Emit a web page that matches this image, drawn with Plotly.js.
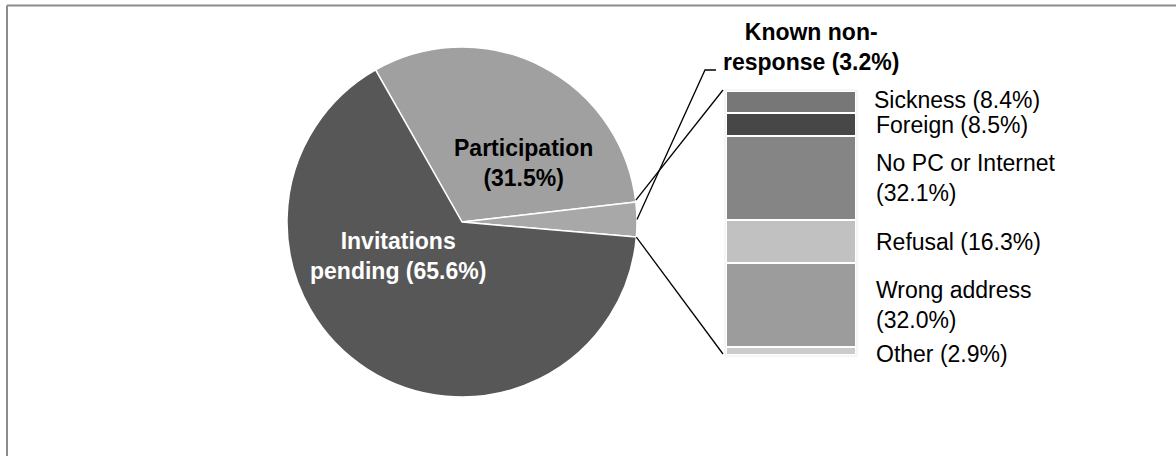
<!DOCTYPE html>
<html>
<head>
<meta charset="utf-8">
<script src="https://cdn.plot.ly/plotly-3.0.1.min.js"></script>
<style>
  html, body { margin: 0; padding: 0; background: #fff; }
  #chart { width: 1176px; height: 456px; }
</style>
</head>
<body>
<div id="chart"></div>
<script>
// ---- data ----
const pieLabels = ["Participation", "Known non-response", "Invitations pending"];
const pieValues = [31.5, 3.2, 65.6];
const pieText = ["Participation<br>(31.5%)", "Known non-<br>response (3.2%)", "Invitations<br>pending (65.6%)"];

const barLabels = ["Sickness", "Foreign", "No PC or Internet", "Refusal", "Wrong address", "Other"];
const barValues = [8.4, 8.5, 32.1, 16.3, 32.0, 2.9];
const barText = ["Sickness (8.4%)", "Foreign (8.5%)", "No PC or Internet<br>(32.1%)", "Refusal (16.3%)", "Wrong address<br>(32.0%)", "Other (2.9%)"];

// ---- styles / layout geometry ----
const W = 1176, H = 456;
const pieColors = ["#a0a0a0", "#a8a8a8", "#575757"];
const barColors = ["#777777", "#474747", "#858585", "#c1c1c1", "#9c9c9c", "#cbcbcb"];
const FONT = "Liberation Sans, Arial, Helvetica, sans-serif";
const FS = 23;
const pieCx = 462, pieCy = 222, pieR = 175, rotation = -29.6;
const barLeft = 726, barRight = 856, barTop = 91, barBottom = 355;
const labelShift = [2, -1, 0, 0, 0, -3];

const px = x => x / W;
const py = y => 1 - y / H;

// pie angles (clockwise from 12 o'clock), derived from the values
const total = pieValues.reduce((a, b) => a + b, 0);
const bounds = [rotation];
pieValues.forEach(v => bounds.push(bounds[bounds.length - 1] + v / total * 360));
function edge(angDeg) {
  const a = angDeg * Math.PI / 180;
  return [pieCx + pieR * Math.sin(a), pieCy - pieR * Math.cos(a)];
}
const pA = edge(bounds[1]);
const pC = edge(bounds[2]);
const pMid = edge((bounds[1] + bounds[2]) / 2);

const barTotal = barValues.reduce((a, b) => a + b, 0);

const traces = [{
  type: "pie",
  labels: pieLabels,
  values: pieValues,
  sort: false,
  direction: "clockwise",
  rotation: rotation,
  marker: { colors: pieColors, line: { color: "#ffffff", width: 1.5 } },
  textinfo: "none",
  hoverinfo: "label+value",
  showlegend: false,
  domain: { x: [px(pieCx - pieR), px(pieCx + pieR)], y: [py(pieCy + pieR), py(pieCy - pieR)] }
}];

barLabels.forEach((lab, i) => {
  traces.push({
    type: "bar",
    name: lab,
    x: ["Known non-response"],
    y: [barValues[i]],
    xaxis: "x",
    yaxis: "y",
    marker: { color: barColors[i], line: { color: "#ffffff", width: 2 } },
    showlegend: false,
    hoverinfo: "name+y"
  });
});

const annotations = [];
// pie labels
annotations.push({ xref: "paper", yref: "paper", x: px(523), y: py(163), text: "<b>" + pieText[0] + "</b>",
  showarrow: false, xanchor: "center", yanchor: "middle", font: { family: FONT, size: FS, color: "#000000" } });
annotations.push({ xref: "paper", yref: "paper", x: px(398), y: py(256), text: "<b>" + pieText[2] + "</b>",
  showarrow: false, xanchor: "center", yanchor: "middle", font: { family: FONT, size: FS, color: "#ffffff" } });
annotations.push({ xref: "paper", yref: "paper", x: px(811), y: py(47), text: "<b>" + pieText[1] + "</b>",
  showarrow: false, xanchor: "center", yanchor: "middle", font: { family: FONT, size: FS, color: "#000000" } });

// bar labels at segment centres
let cum = 0;
barValues.forEach((v, i) => {
  const mid = cum + v / 2;
  cum += v;
  annotations.push({ xref: "paper", yref: "y", x: px(874), y: mid, text: barText[i],
    xshift: i === 0 ? -2 : 0, yshift: labelShift[i],
    showarrow: false, xanchor: "left", yanchor: "middle", align: "left",
    font: { family: FONT, size: FS, color: "#000000" } });
});

const shapes = [
  // frame
  { type: "line", xref: "paper", yref: "paper", x0: px(7), y0: py(5.5), x1: px(W + 5), y1: py(5.5), line: { color: "#8c8c8c", width: 2 } },
  { type: "line", xref: "paper", yref: "paper", x0: px(7), y0: py(5.5), x1: px(7), y1: py(H + 5), line: { color: "#8c8c8c", width: 2 } },
  // connectors pie -> bar
  { type: "line", xref: "paper", yref: "paper", x0: px(pA[0]), y0: py(pA[1] - 2), x1: px(barLeft - 3), y1: py(barTop - 1), line: { color: "#000000", width: 1.3 } },
  { type: "line", xref: "paper", yref: "paper", x0: px(pC[0]), y0: py(pC[1]), x1: px(barLeft - 3), y1: py(barBottom - 1), line: { color: "#000000", width: 1.3 } },
  // leader to label
  { type: "path", xref: "paper", yref: "paper",
    path: "M " + px(pMid[0]) + " " + py(pMid[1]) + " L " + px(705) + " " + py(70) + " L " + px(716) + " " + py(70),
    line: { color: "#000000", width: 1.3 } },
  // faint bar outline
  { type: "rect", xref: "paper", yref: "paper", x0: px(barLeft - 1), y0: py(barTop - 1), x1: px(barRight + 1), y1: py(barBottom + 1),
    line: { color: "#ececec", width: 1 }, layer: "below" }
];

const layout = {
  width: W, height: H,
  margin: { l: 0, r: 0, t: 0, b: 0 },
  paper_bgcolor: "#ffffff",
  plot_bgcolor: "rgba(0,0,0,0)",
  barmode: "stack",
  bargap: 0,
  showlegend: false,
  xaxis: { domain: [px(barLeft), px(barRight)], range: [-0.5, 0.5], visible: false, fixedrange: true },
  yaxis: { domain: [py(barBottom), py(barTop)], range: [barTotal, 0], visible: false, fixedrange: true },
  annotations: annotations,
  shapes: shapes,
  font: { family: FONT }
};

Plotly.newPlot("chart", traces, layout, { displayModeBar: false, staticPlot: true });
</script>
</body>
</html>
